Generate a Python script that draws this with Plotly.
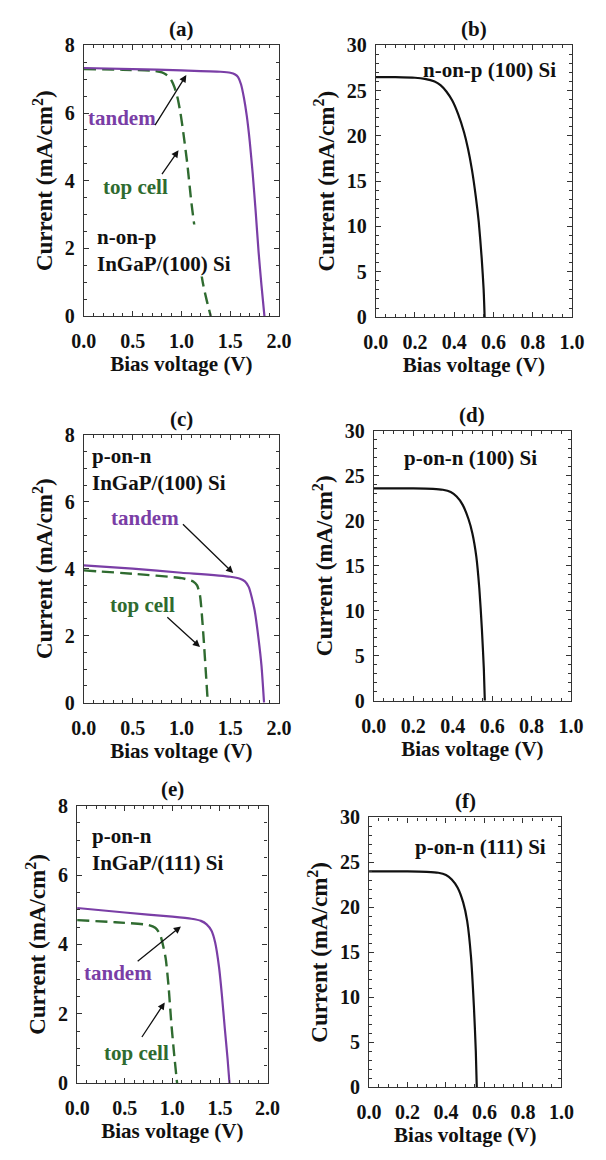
import plotly.graph_objects as go

W, H = 606, 1160

# ---------------- data ----------------
# (a) n-on-p InGaP/(100) Si
a_tandem_v = [0.0, 0.5, 1.0, 1.4, 1.5, 1.55, 1.58, 1.61, 1.64, 1.67, 1.70, 1.73, 1.76, 1.79, 1.82, 1.85]
a_tandem_i = [7.33, 7.3, 7.26, 7.22, 7.19, 7.14, 7.06, 6.85, 6.45, 5.9, 5.15, 4.2, 3.1, 1.9, 0.9, 0.0]
a_top_v = [0.0, 0.4, 0.7, 0.8, 0.86, 0.9, 0.93, 0.96, 0.99, 1.02, 1.06, 1.10, 1.14, 1.18, 1.22, 1.26, 1.30]
a_top_i = [7.3, 7.28, 7.25, 7.2, 7.1, 6.95, 6.75, 6.45, 6.0, 5.4, 4.5, 3.4, 2.5, 1.7, 0.97, 0.45, 0.0]

# (b) n-on-p (100) Si
b_v = [0.0, 0.1, 0.2, 0.25, 0.3, 0.33, 0.36, 0.39, 0.42, 0.45, 0.47, 0.49, 0.51, 0.525, 0.54, 0.55, 0.555]
b_i = [26.5, 26.48, 26.42, 26.3, 26.0, 25.6, 24.9, 23.9, 22.4, 20.4, 18.6, 16.3, 13.3, 10.5, 6.5, 3.0, 0.0]

# (c) p-on-n InGaP/(100) Si
c_tandem_v = [0.0, 0.5, 1.0, 1.5, 1.6, 1.65, 1.69, 1.72, 1.75, 1.79, 1.82, 1.846]
c_tandem_i = [4.1, 4.0, 3.88, 3.76, 3.7, 3.62, 3.45, 3.15, 2.75, 1.9, 1.1, 0.0]
c_top_v = [0.0, 0.5, 1.0, 1.08, 1.12, 1.16, 1.19, 1.21, 1.23, 1.25, 1.27]
c_top_i = [3.95, 3.85, 3.72, 3.66, 3.62, 3.5, 3.2, 2.6, 1.8, 0.9, 0.0]

# (d) p-on-n (100) Si
d_v = [0.0, 0.2, 0.3, 0.35, 0.39, 0.42, 0.45, 0.48, 0.5, 0.52, 0.535, 0.548, 0.558, 0.563]
d_i = [23.6, 23.6, 23.55, 23.45, 23.2, 22.7, 21.8, 20.2, 18.6, 16.0, 12.5, 8.0, 3.5, 0.0]

# (e) p-on-n InGaP/(111) Si
e_tandem_v = [0.0, 0.5, 1.0, 1.2, 1.3, 1.36, 1.41, 1.45, 1.49, 1.52, 1.55, 1.58, 1.60]
e_tandem_i = [5.05, 4.92, 4.8, 4.74, 4.68, 4.58, 4.4, 4.05, 3.35, 2.55, 1.6, 0.7, 0.0]
e_top_v = [0.0, 0.4, 0.75, 0.82, 0.87, 0.9, 0.93, 0.96, 0.99, 1.02, 1.05]
e_top_i = [4.7, 4.64, 4.56, 4.48, 4.3, 4.0, 3.6, 2.8, 1.7, 0.8, 0.0]

# (f) p-on-n (111) Si
f_v = [0.0, 0.2, 0.3, 0.36, 0.4, 0.43, 0.46, 0.49, 0.51, 0.53, 0.545, 0.555, 0.56]
f_i = [24.0, 24.0, 23.95, 23.85, 23.6, 23.1, 22.2, 20.5, 18.5, 14.5, 9.0, 4.0, 0.0]

panel_letters = ["(a)", "(b)", "(c)", "(d)", "(e)", "(f)"]
inset_labels = ["n-on-p<br>InGaP/(100) Si", "n-on-p (100) Si",
                "p-on-n<br>InGaP/(100) Si", "p-on-n (100) Si",
                "p-on-n<br>InGaP/(111) Si", "p-on-n (111) Si"]

# ---------------- styling ----------------
PURPLE = "#7a3ea6"
GREEN = "#2f6b30"
BLACK = "#111111"
FONT = "Liberation Serif"

# panel boxes in pixels: (left, right, top, bottom)
boxes = [
    (74, 278, 35, 311),
    (379, 584, 35, 312),
    (74, 278, 432, 705),
    (377, 583, 428, 703),
    (67, 266, 810, 1093),
    (372, 573, 822, 1097),
]
title_y = [18, 18, 416, 412, 793, 805]

fig = go.Figure()

def add_line(k, x, y, color, dash=None, width=2.2):
    fig.add_trace(go.Scatter(
        x=x, y=y, mode="lines", xaxis=f"x{k if k > 1 else ''}", yaxis=f"y{k if k > 1 else ''}",
        line=dict(color=color, width=width, dash=dash, shape="spline", smoothing=0.6),
        showlegend=False, hoverinfo="skip"))

add_line(1, a_top_v, a_top_i, GREEN, dash="12px,6px", width=2.4)
add_line(1, a_tandem_v, a_tandem_i, PURPLE)
add_line(2, b_v, b_i, BLACK)
add_line(3, c_top_v, c_top_i, GREEN, dash="12px,6px", width=2.4)
add_line(3, c_tandem_v, c_tandem_i, PURPLE)
add_line(4, d_v, d_i, BLACK)
add_line(5, e_top_v, e_top_i, GREEN, dash="12px,6px", width=2.4)
add_line(5, e_tandem_v, e_tandem_i, PURPLE)
add_line(6, f_v, f_i, BLACK)

layout = dict(
    width=W, height=H, margin=dict(l=0, r=0, t=0, b=0),
    paper_bgcolor="white", plot_bgcolor="white",
    font=dict(family=FONT, color=BLACK, size=20),
    showlegend=False,
)

annotations = []
for idx, (l, r, t, b) in enumerate(boxes):
    k = idx + 1
    left_col = idx % 2 == 0
    xs = "" if k == 1 else str(k)
    xdom = [l / W, r / W]
    ydom = [1 - b / H, 1 - t / H]
    if left_col:
        xr, xdt, xminor = [0, 2], 0.5, 0.1
        yr, ydt, yminor = [0, 8], 2, 0.5
    else:
        xr, xdt, xminor = [0, 1], 0.2, 0.05
        yr, ydt, yminor = [0, 30], 5, 1
    common = dict(showline=True, linecolor="#333", linewidth=1.2, mirror="allticks",
                  ticks="inside", ticklen=5, tickwidth=1.2, tickcolor="#333",
                  showgrid=False, zeroline=False, fixedrange=True,
                  tickfont=dict(family=FONT, size=20, weight="bold", color=BLACK))
    layout[f"xaxis{xs}"] = dict(
        domain=xdom, range=xr, dtick=xdt, tick0=0, tickformat=".1f", anchor=f"y{xs}",
        ticklabelstandoff=7,
        minor=dict(dtick=xminor, ticks="inside", ticklen=3, tickcolor="#333", showgrid=False),
        title=dict(text="Bias voltage (V)", font=dict(family=FONT, size=21, weight="bold"), standoff=4),
        **common)
    layout[f"yaxis{xs}"] = dict(
        domain=ydom, range=yr, dtick=ydt, tick0=0, anchor=f"x{xs}",
        ticklabelstandoff=4,
        minor=dict(dtick=yminor, ticks="inside", ticklen=3, tickcolor="#333", showgrid=False),
        title=dict(text="Current (mA/cm<sup>2</sup>)", font=dict(family=FONT, size=23, weight="bold"),
                   standoff=5),
        **common)
    # panel letter
    annotations.append(dict(text=f"<b>{panel_letters[idx]}</b>", xref="paper", yref="paper",
                            x=(l + r) / 2 / W, y=1 - title_y[idx] / H, showarrow=False,
                            xanchor="center", yanchor="middle",
                            font=dict(family=FONT, size=21, color=BLACK)))

def txt(k, text, x, y, color=BLACK, xanchor="center", bg=None):
    xs = "" if k == 1 else str(k)
    d = dict(text=f"<b>{text}</b>", xref=f"x{xs}", yref=f"y{xs}", x=x, y=y, showarrow=False,
             xanchor=xanchor, yanchor="middle", align="left",
             font=dict(family=FONT, size=21, color=color))
    if bg:
        d["bgcolor"] = bg
        d["borderpad"] = 0
    annotations.append(d)

def arrow(k, x0, y0, x1, y1):
    xs = "" if k == 1 else str(k)
    annotations.append(dict(text="", xref=f"x{xs}", yref=f"y{xs}", x=x1, y=y1,
                            axref=f"x{xs}", ayref=f"y{xs}", ax=x0, ay=y0, showarrow=True,
                            arrowhead=2, arrowsize=1.1, arrowwidth=1.3, arrowcolor=BLACK,
                            standoff=0, startstandoff=0))

# (a)
txt(1, "tandem", 0.39, 5.85, PURPLE)
arrow(1, 0.72, 5.6, 1.05, 7.12)
txt(1, "top cell", 0.53, 3.8, GREEN)
arrow(1, 0.79, 4.15, 0.97, 4.9)
txt(1, inset_labels[0], 0.12, 1.95, BLACK, xanchor="left", bg="white")
# (b)
txt(2, inset_labels[1], 0.58, 27.3)
# (c)
txt(3, inset_labels[2], 0.06, 6.95, BLACK, xanchor="left")
txt(3, "tandem", 0.63, 5.5, PURPLE)
arrow(3, 1.0, 5.37, 1.53, 3.87)
txt(3, "top cell", 0.6, 2.93, GREEN)
arrow(3, 0.84, 2.59, 1.19, 1.66)
# (d)
txt(4, inset_labels[3], 0.49, 27.0)
# (e)
txt(5, inset_labels[4], 0.13, 6.75, BLACK, xanchor="left")
txt(5, "tandem", 0.43, 3.19, PURPLE)
arrow(5, 0.62, 3.48, 1.09, 4.52)
txt(5, "top cell", 0.62, 0.86, GREEN)
arrow(5, 0.67, 1.29, 0.92, 2.33)
# (f)
txt(6, inset_labels[5], 0.58, 26.7)

layout["annotations"] = annotations
fig.update_layout(**layout)
fig.write_html("out.html", config={"displayModeBar": False},
               post_script="document.body.style.margin='0';document.body.style.overflow='hidden';")
